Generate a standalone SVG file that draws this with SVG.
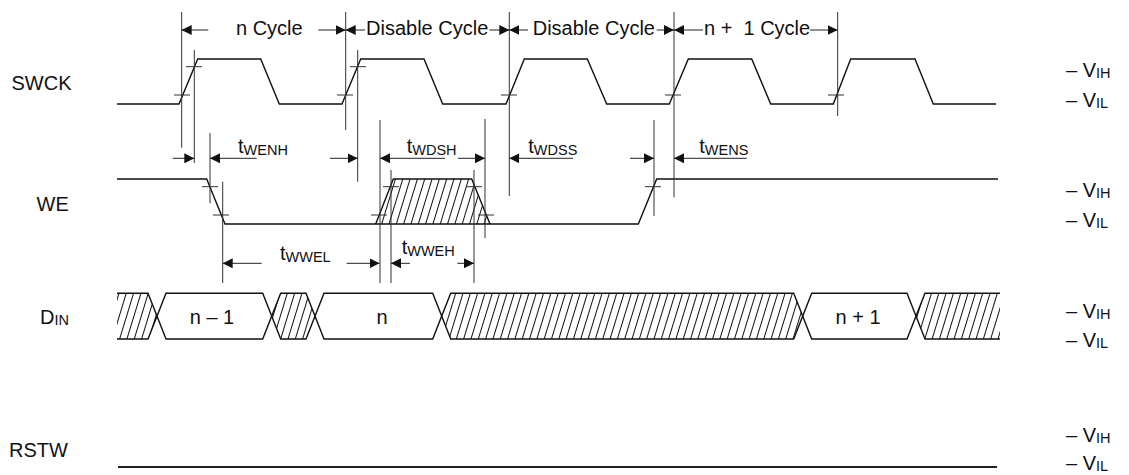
<svg xmlns="http://www.w3.org/2000/svg" width="1129" height="475" viewBox="0 0 1129 475">
<style>
text{font-family:"Liberation Sans",Arial,sans-serif;font-size:20px;fill:#111}
.sub{font-size:14.5px}
.w{fill:none;stroke:#111;stroke-width:1.4;stroke-linejoin:miter}
.v{stroke:#333;stroke-width:1}
.tk{stroke:#333;stroke-width:1}
.a{stroke:#222;stroke-width:1;marker-end:url(#ah)}
.h{fill:url(#hatch);stroke:none}
</style>
<defs>
<marker id="ah" markerUnits="userSpaceOnUse" markerWidth="10" markerHeight="10" refX="10" refY="5" orient="auto">
<path d="M0,0 L10,5 L0,10 z" fill="#111"/>
</marker>
<pattern id="hatch" patternUnits="userSpaceOnUse" width="7" height="10" patternTransform="rotate(17)">
<line x1="3.5" y1="-1" x2="3.5" y2="11" stroke="#111" stroke-width="1"/>
</pattern>
</defs>
<rect width="1129" height="475" fill="#fff"/>

<g id="labels">
<text x="11.5" y="90">SWCK</text>
<text x="36.5" y="211">WE</text>
<text x="40" y="324">D<tspan class="sub" dy="1">IN</tspan></text>
<text x="9" y="457">RSTW</text>
</g>

<g id="levels">
<text x="1066" y="77">– V<tspan class="sub" dy="1">IH</tspan></text>
<text x="1066" y="107">– V<tspan class="sub" dy="1">IL</tspan></text>
<text x="1066" y="197">– V<tspan class="sub" dy="1">IH</tspan></text>
<text x="1066" y="227">– V<tspan class="sub" dy="1">IL</tspan></text>
<text x="1066" y="318">– V<tspan class="sub" dy="1">IH</tspan></text>
<text x="1066" y="347">– V<tspan class="sub" dy="1">IL</tspan></text>
<text x="1066" y="442">– V<tspan class="sub" dy="1">IH</tspan></text>
<text x="1066" y="470">– V<tspan class="sub" dy="1">IL</tspan></text>
</g>

<g id="swck">
<polyline class="w" points="117,104 179,104 197.7,59 260.7,59 279.3,104 342,104 360.7,59 424,59 442.7,104 506,104 524.3,59 587.3,59 606.7,104 669.3,104 688.3,59 751.7,59 770.7,104 833.3,104 850.7,59 915,59 933.3,104 996,104"/>
<g class="tk">
<line x1="174" y1="95" x2="190" y2="95"/><line x1="186" y1="66.7" x2="202" y2="66.7"/>
<line x1="337" y1="95" x2="353" y2="95"/><line x1="350" y1="66.7" x2="366" y2="66.7"/>
<line x1="501" y1="95" x2="517" y2="95"/>
<line x1="665" y1="95" x2="681" y2="95"/>
<line x1="828" y1="95" x2="844" y2="95"/>
</g>
</g>

<g id="we">
<polygon class="h" points="375.7,224 393.3,179 471.7,179 490,224"/>
<polyline class="w" points="375.7,224 393.3,179 471.7,179 490,224"/>
<polyline class="w" points="117,179 206.7,179 225,224 638.3,224 656.7,179 998,179"/>
<g class="tk">
<line x1="202" y1="186.7" x2="218" y2="186.7"/><line x1="213" y1="215" x2="229" y2="215"/>
<line x1="383" y1="186.7" x2="399" y2="186.7"/><line x1="371" y1="215" x2="387" y2="215"/>
<line x1="466" y1="186.7" x2="482" y2="186.7"/><line x1="478" y1="215" x2="494" y2="215"/>
<line x1="645" y1="186.7" x2="661" y2="186.7"/>
</g>
</g>

<g id="din">
<polygon class="h" points="117,293.3 148,293.3 157,316 148,339 117,339"/>
<polygon class="h" points="271.7,316 280.7,293.3 306,293.3 315,316 306,339 280.7,339"/>
<polygon class="h" points="441.7,316 450.7,293.3 793.7,293.3 802.7,316 793.7,339 450.7,339"/>
<polygon class="h" points="916,316 925,293.3 1000,293.3 1000,339 925,339"/>
<polyline class="w" points="117,293.3 148,293.3 166,339 262.7,339 280.7,293.3 306,293.3 324,339 432.7,339 450.7,293.3 793.7,293.3 811.7,339 907,339 925,293.3 1000,293.3"/>
<polyline class="w" points="117,339 148,339 166,293.3 262.7,293.3 280.7,339 306,339 324,293.3 432.7,293.3 450.7,339 793.7,339 811.7,293.3 907,293.3 925,339 1000,339"/>
<text x="212" y="323.5" text-anchor="middle">n – 1</text>
<text x="382" y="323.5" text-anchor="middle">n</text>
<text x="858" y="323.5" text-anchor="middle">n + 1</text>
</g>

<g id="rstw">
<line x1="118" y1="467" x2="997" y2="467" style="stroke:#222;stroke-width:1.8"/>
</g>

<g id="connectors">
<g class="v">
<line x1="181.7" y1="12" x2="181.7" y2="147.7"/>
<line x1="194.3" y1="50" x2="194.3" y2="163"/>
<line x1="210" y1="133" x2="210" y2="203.3"/>
<line x1="222.7" y1="181.7" x2="222.7" y2="283"/>
<line x1="345.7" y1="12" x2="345.7" y2="130"/>
<line x1="357.7" y1="50" x2="357.7" y2="181.7"/>
<line x1="380" y1="120" x2="380" y2="283"/>
<line x1="391" y1="170" x2="391" y2="283"/>
<line x1="474" y1="170" x2="474" y2="283"/>
<line x1="485" y1="119" x2="485" y2="238"/>
<line x1="509.3" y1="12" x2="509.3" y2="196"/>
<line x1="654" y1="120" x2="654" y2="216"/>
<line x1="674" y1="12" x2="674" y2="197.3"/>
<line x1="837.7" y1="12" x2="837.7" y2="116"/>
</g>
<line class="a" x1="208.3" y1="30" x2="181.7" y2="30"/>
<line class="a" x1="318.3" y1="30" x2="345.7" y2="30"/>
<line class="a" x1="365" y1="30" x2="345.7" y2="30"/>
<line class="a" x1="489.3" y1="30" x2="509.3" y2="30"/>
<line class="a" x1="528" y1="30" x2="509.3" y2="30"/>
<line class="a" x1="656.7" y1="30" x2="674" y2="30"/>
<line class="a" x1="703" y1="30" x2="674" y2="30"/>
<line class="a" x1="810" y1="30" x2="837.7" y2="30"/>

<line class="a" x1="172.7" y1="158.3" x2="194.3" y2="158.3"/>
<line class="a" x1="256.7" y1="158.3" x2="210" y2="158.3"/>
<line class="a" x1="330" y1="158.3" x2="357.7" y2="158.3"/>
<line class="a" x1="445" y1="158.3" x2="380" y2="158.3"/>
<line class="a" x1="458" y1="158.3" x2="485" y2="158.3"/>
<line class="a" x1="573" y1="158.3" x2="509.3" y2="158.3"/>
<line class="a" x1="630" y1="158.3" x2="654" y2="158.3"/>
<line class="a" x1="746.7" y1="158.3" x2="674" y2="158.3"/>

<line class="a" x1="261.7" y1="263.3" x2="222.7" y2="263.3"/>
<line class="a" x1="346.7" y1="263.3" x2="379.5" y2="263.3"/>
<line class="a" x1="410" y1="263.3" x2="391" y2="263.3"/>
<line class="a" x1="457.3" y1="263.3" x2="474" y2="263.3"/>
</g>

<g id="cycle-labels">
<text x="236" y="35">n Cycle</text>
<text x="366" y="35">Disable Cycle</text>
<text x="532.7" y="35">Disable Cycle</text>
<text x="704" y="35" xml:space="preserve">n +  1 Cycle</text>
</g>

<g id="timing-labels">
<text x="238" y="153">t<tspan class="sub" dy="2">WENH</tspan></text>
<text x="406.7" y="153">t<tspan class="sub" dy="2">WDSH</tspan></text>
<text x="528.3" y="153">t<tspan class="sub" dy="2">WDSS</tspan></text>
<text x="699.3" y="153">t<tspan class="sub" dy="2">WENS</tspan></text>
<text x="280" y="260">t<tspan class="sub" dy="2">WWEL</tspan></text>
<text x="401.7" y="254">t<tspan class="sub" dy="2">WWEH</tspan></text>
</g>
</svg>
